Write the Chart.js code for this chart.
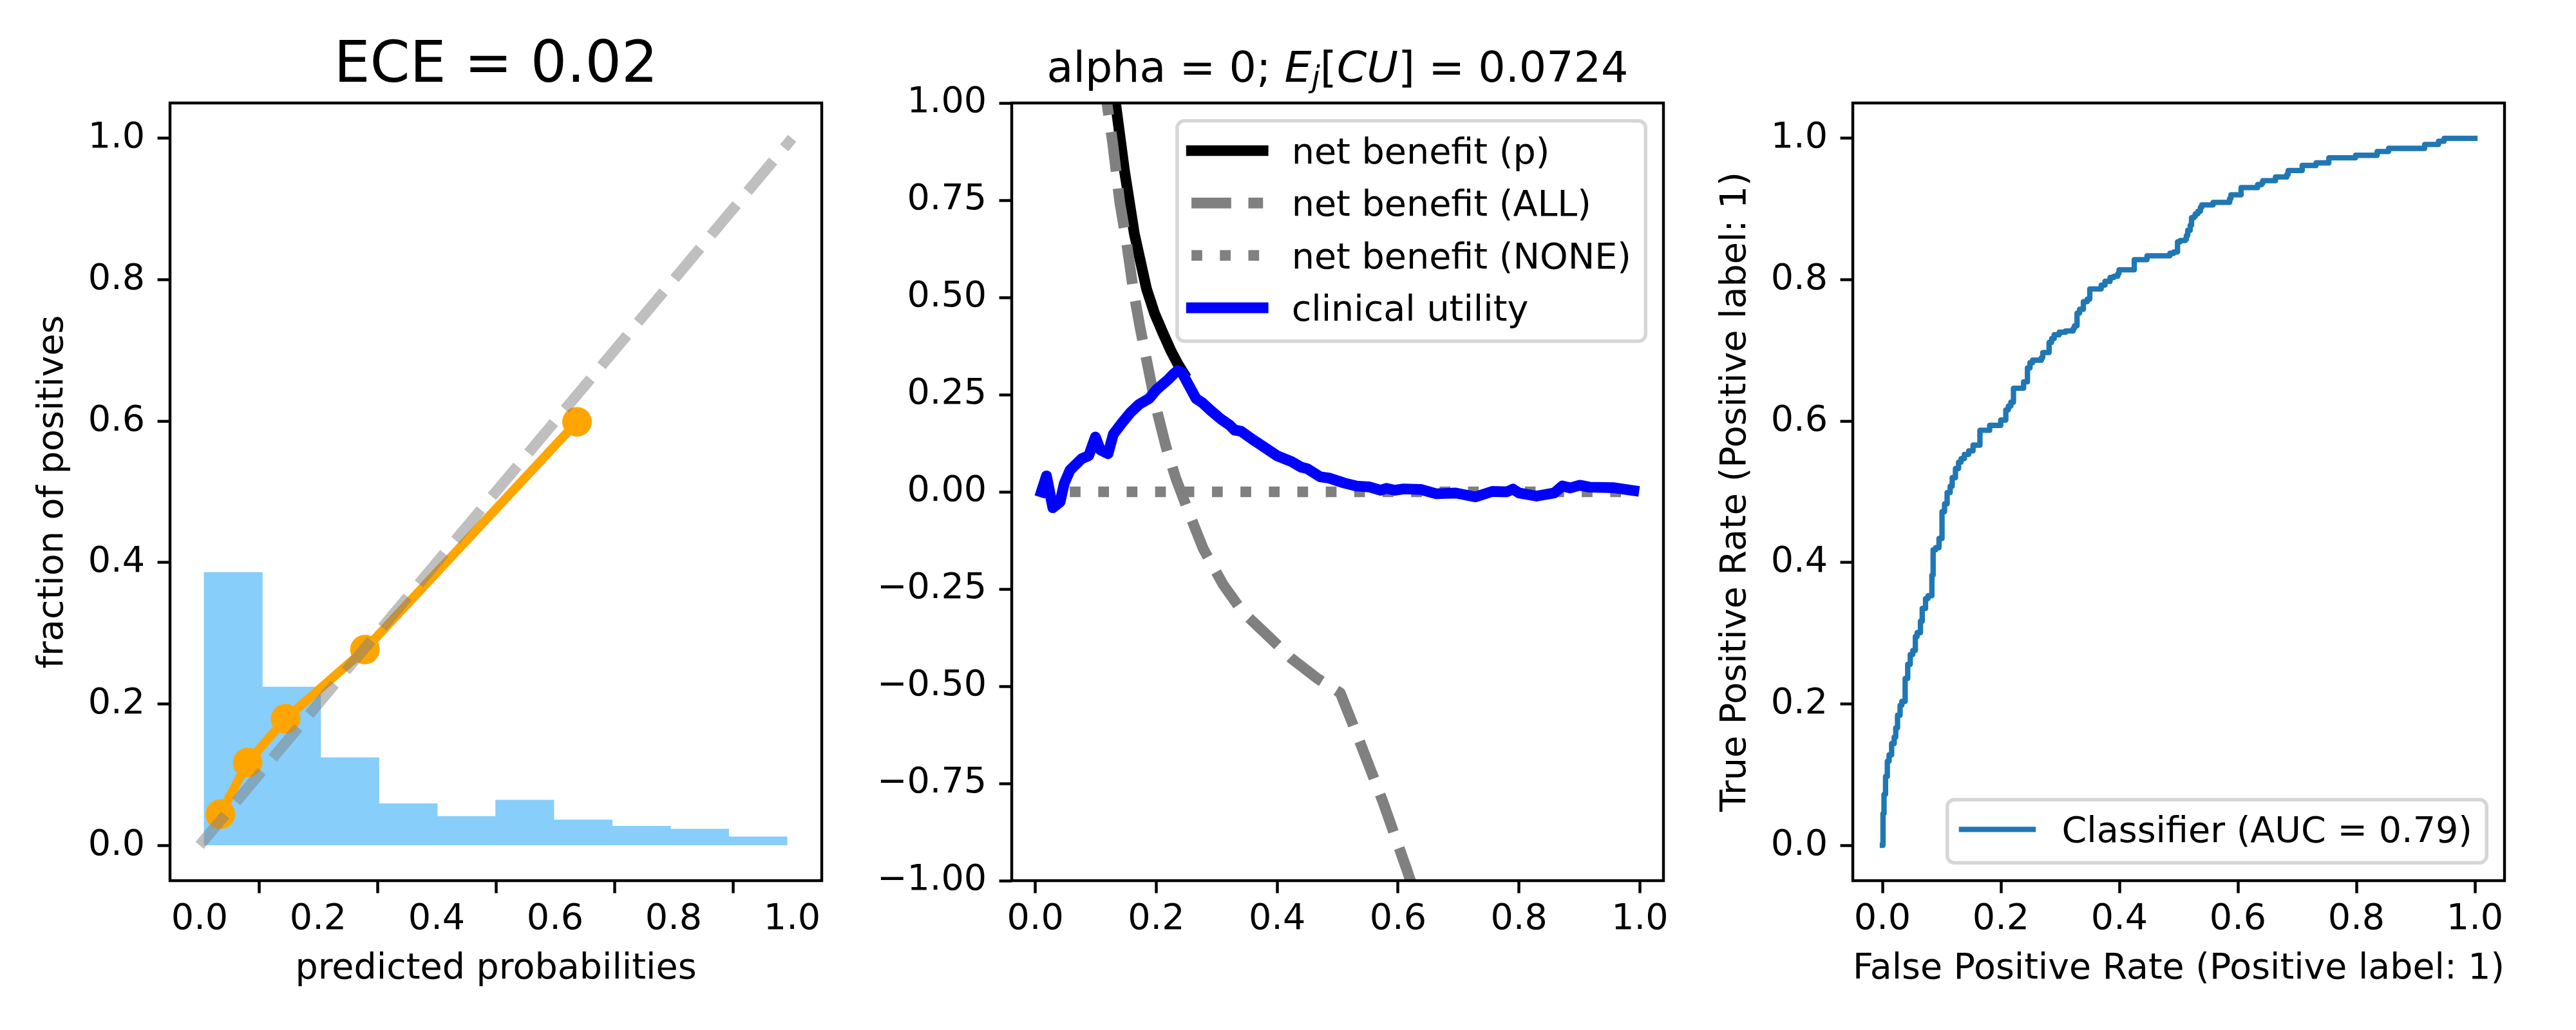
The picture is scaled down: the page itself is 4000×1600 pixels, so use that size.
<!DOCTYPE html>
<html>
<head>
<meta charset="utf-8">
<title>Calibration, decision curve and ROC</title>
<script src="https://cdn.jsdelivr.net/npm/chart.js@4.4.1/dist/chart.umd.min.js"></script>
<style>
  html, body { margin: 0; padding: 0; background: #fff; }
  #wrap { position: relative; width: 4000px; height: 1600px; }
  #wrap canvas { position: absolute; left: 0; top: 0; }
</style>
</head>
<body>
<div id="wrap">
  <canvas id="calib" width="4000" height="1600"></canvas>
  <canvas id="dca" width="4000" height="1600"></canvas>
  <canvas id="roc" width="4000" height="1600"></canvas>
</div>
<script>
// ---- data ----
const unitTicks = [0, 0.2, 0.4, 0.6, 0.8, 1.0];
const benefitTicks = [-1, -0.75, -0.5, -0.25, 0, 0.25, 0.5, 0.75, 1];

// left panel: histogram of predicted probabilities + calibration curve
const binEdges = [0.0075, 0.1059, 0.2043, 0.3027, 0.4011, 0.4995, 0.5979, 0.6963, 0.7947, 0.8931, 0.9915];
const binFractions = [0.386, 0.224, 0.124, 0.059, 0.041, 0.064, 0.036, 0.027, 0.023, 0.012];
const calibProb = [0.035, 0.081, 0.145, 0.279, 0.637];
const calibFrac = [0.044, 0.117, 0.179, 0.277, 0.599];
const perfectLine = [0, 1];

// middle panel: decision curve
const modelNbX = [0.12, 0.133, 0.1475, 0.1638, 0.184, 0.197, 0.2107, 0.2239, 0.2355, 0.2453];
const modelNbY = [1.15, 0.997, 0.826, 0.664, 0.522, 0.46, 0.41, 0.364, 0.3295, 0.305];
const treatAllX = [0.112, 0.1214, 0.128, 0.1397, 0.1507, 0.1618, 0.1736, 0.1866, 0.1997, 0.216, 0.2323, 0.252,
  0.278, 0.3105, 0.343, 0.3758, 0.4237, 0.4665, 0.5044, 0.537, 0.5747, 0.613, 0.625];
const treatAllY = [1.07, 0.968, 0.897, 0.745, 0.644, 0.522, 0.42, 0.3195, 0.218, 0.1166, 0.0354, -0.0457,
  -0.147, -0.238, -0.309, -0.357, -0.4286, -0.48, -0.517, -0.644, -0.796, -0.965, -1.02];
const treatNoneX = [0.01, 0.99];
const treatNoneY = [0, 0];
const utilityX = [0.01, 0.0185, 0.029, 0.041, 0.048, 0.0575, 0.0766, 0.0884, 0.0994, 0.1075, 0.1203, 0.129,
  0.1432, 0.1575, 0.1717, 0.1884, 0.2003, 0.2193, 0.228, 0.2355, 0.2425, 0.2501, 0.2658, 0.2763, 0.2906,
  0.3072, 0.3215, 0.3296, 0.3405, 0.3595, 0.3713, 0.3856, 0.3999, 0.4237, 0.4403, 0.4498, 0.4713, 0.4855,
  0.5116, 0.5307, 0.552, 0.571, 0.5806, 0.5949, 0.6092, 0.6377, 0.663, 0.6955, 0.728, 0.756, 0.78, 0.79,
  0.80, 0.829, 0.8585, 0.8716, 0.8846, 0.9006, 0.917, 0.956, 0.99];
const utilityY = [0, 0.041, -0.041, -0.026, 0.022, 0.056, 0.085, 0.093, 0.141, 0.108, 0.098, 0.148,
  0.177, 0.204, 0.225, 0.240, 0.2626, 0.288, 0.302, 0.312, 0.307, 0.285, 0.240, 0.229, 0.2086,
  0.187, 0.1715, 0.159, 0.1556, 0.1346, 0.1225, 0.1076, 0.0927, 0.0778, 0.063, 0.0596, 0.0386, 0.0356,
  0.0223, 0.015, 0.0127, 0.004, 0.009, 0.004, 0.0075, 0.006, -0.005, -0.003, -0.013, 0.001, 0.0, 0.007,
  -0.003, -0.011, -0.003, 0.015, 0.01, 0.017, 0.012, 0.0106, 0.003];

// right panel: ROC curve corners
const rocFpr = [0, 0.001, 0.0027, 0.0053, 0.0083, 0.0113, 0.0156, 0.0199, 0.0225, 0.0255, 0.0298, 0.0328,
  0.0384, 0.0427, 0.047, 0.0513, 0.0556, 0.0586, 0.0642, 0.0672, 0.0728, 0.077, 0.0835, 0.0856, 0.0899,
  0.0955, 0.1006, 0.1049, 0.1092, 0.1144, 0.1178, 0.1233, 0.1285, 0.1328, 0.1384, 0.1457, 0.153, 0.1646,
  0.181, 0.1997, 0.2083, 0.2126, 0.2168, 0.2212, 0.2383, 0.2448, 0.2491, 0.2534, 0.2684, 0.2706, 0.2813,
  0.2856, 0.2899, 0.2985, 0.3092, 0.322, 0.3242, 0.3285, 0.3328, 0.3392, 0.3457, 0.35, 0.3693, 0.3757,
  0.3843, 0.3908, 0.3972, 0.3993, 0.4251, 0.4466, 0.4852, 0.4917, 0.4981, 0.5024, 0.511, 0.5131, 0.5153,
  0.5195, 0.5217, 0.526, 0.5281, 0.5325, 0.5367, 0.5389, 0.5582, 0.5861, 0.5883, 0.6054, 0.6333, 0.6398,
  0.6419, 0.6634, 0.6827, 0.6848, 0.7085, 0.732, 0.7535, 0.7986, 0.835, 0.8544, 0.9152, 0.9387, 0.948, 1.0];
const rocTpr = [0, 0.045, 0.0721, 0.0974, 0.119, 0.128, 0.144, 0.153, 0.166, 0.184, 0.198, 0.2036,
  0.236, 0.256, 0.27, 0.2756, 0.2954, 0.3008, 0.317, 0.335, 0.349, 0.353, 0.382, 0.418, 0.421,
  0.434, 0.472, 0.483, 0.499, 0.508, 0.52, 0.533, 0.542, 0.547, 0.553, 0.558, 0.566, 0.587,
  0.594, 0.6015, 0.616, 0.6213, 0.6268, 0.6465, 0.6556, 0.6753, 0.6826, 0.6862, 0.6898, 0.697, 0.7114,
  0.7168, 0.7222, 0.7258, 0.7276, 0.7312, 0.7348, 0.7528, 0.7582, 0.769, 0.7726, 0.787, 0.7924, 0.7978,
  0.8032, 0.805, 0.8086, 0.814, 0.8284, 0.8338, 0.8374, 0.8393, 0.8536, 0.8554, 0.8572, 0.8627, 0.8699,
  0.877, 0.8878, 0.8896, 0.8933, 0.8968, 0.9023, 0.9058, 0.9095, 0.9148, 0.9202, 0.9303, 0.9346, 0.9364,
  0.9401, 0.9454, 0.949, 0.9545, 0.9617, 0.9653, 0.9725, 0.976, 0.9814, 0.9858, 0.9914, 0.996, 1.0, 1.0];

// ---- look ----
const PT = 400 / 72;          // figure was 400 dpi
const FS = 10 * PT;
const FONT = 'DejaVu Sans';
const LW = 3 * PT;
const PANEL_LEFT = [264, 1571, 2877];
const PANEL_W = 1012;
const AREA_TOP = 160, AREA_BOTTOM = 1368;
const Y_BOX = 250, X_BOX = 200;

Chart.defaults.font.family = FONT;
Chart.defaults.color = '#000';

const pts = (xs, ys) => xs.map((x, i) => ({ x: x, y: ys[i] }));
const fmt1 = v => v.toFixed(1);
const fmt2 = v => v.toFixed(2).replace('-', '\u2212');

function axis(kind, min, max, tickVals, fmt, label) {
  const o = {
    type: 'linear', min: min, max: max, offset: false,
    grid: { drawOnChartArea: false, drawTicks: true, tickLength: 3.5 * PT, tickWidth: 0.8 * PT, tickColor: '#000' },
    border: { display: false },
    ticks: {
      autoSkip: false, maxRotation: 0, minRotation: 0, color: '#000',
      padding: kind === 'x' ? 8 : 3.5 * PT,
      font: { family: FONT, size: FS, lineHeight: 1.2 },
      callback: fmt
    },
    afterBuildTicks: s => { s.ticks = tickVals.map(v => ({ value: v })); },
    afterFit: s => { if (kind === 'x') s.height = X_BOX; else s.width = Y_BOX; },
    title: { display: false }
  };
  if (label) {
    o.title = {
      display: true, text: label, color: '#000',
      font: { family: FONT, size: FS, lineHeight: 1.2 },
      padding: kind === 'x' ? { top: 0, bottom: 28.8 } : { top: 35.4, bottom: 0 }
    };
  }
  return o;
}

function layoutFor(i) {
  return {
    padding: {
      left: PANEL_LEFT[i] - Y_BOX,
      right: 4000 - (PANEL_LEFT[i] + PANEL_W),
      top: AREA_TOP,
      bottom: 1600 - AREA_BOTTOM - X_BOX
    }
  };
}

function roundBox(ctx, x, y, w, h, r) {
  ctx.beginPath();
  ctx.moveTo(x + r, y);
  ctx.lineTo(x + w - r, y);
  ctx.arcTo(x + w, y, x + w, y + r, r);
  ctx.lineTo(x + w, y + h - r);
  ctx.arcTo(x + w, y + h, x + w - r, y + h, r);
  ctx.lineTo(x + r, y + h);
  ctx.arcTo(x, y + h, x, y + h - r, r);
  ctx.lineTo(x, y + r);
  ctx.arcTo(x, y, x + r, y, r);
  ctx.closePath();
}

function drawLegend(chart, loc) {
  const items = chart.data.datasets.filter(d => d.legendRank !== undefined)
    .sort((a, b) => a.legendRank - b.legendRank);
  const ctx = chart.ctx, a = chart.chartArea;
  const pad = 0.4 * FS, hl = 2 * FS, htp = 0.8 * FS, bap = 0.5 * FS, ls = 0.5 * FS, rowH = 53.6;
  ctx.save();
  ctx.font = FS + 'px "' + FONT + '"';
  const tw = Math.max.apply(null, items.map(d => ctx.measureText(d.label).width));
  const w = pad + hl + htp + tw + pad;
  const h = 2 * pad + items.length * rowH + (items.length - 1) * ls;
  const x = a.right - bap - w;
  const y = loc === 'upper right' ? a.top + bap : a.bottom - bap - h;
  roundBox(ctx, x, y, w, h, 0.2 * FS);
  ctx.fillStyle = 'rgba(255,255,255,0.8)';
  ctx.fill();
  ctx.lineWidth = PT;
  ctx.strokeStyle = 'rgba(204,204,204,0.8)';
  ctx.stroke();
  items.forEach((d, i) => {
    const base = y + pad + i * (rowH + ls) + 44;
    const ly = base - 20;
    ctx.beginPath();
    ctx.setLineDash(d.borderDash || []);
    ctx.lineCap = d.borderCapStyle || 'butt';
    ctx.lineWidth = d.borderWidth;
    ctx.strokeStyle = d.borderColor;
    ctx.moveTo(x + pad, ly);
    ctx.lineTo(x + pad + hl, ly);
    ctx.stroke();
    ctx.setLineDash([]);
    ctx.fillStyle = '#000';
    ctx.textAlign = 'left';
    ctx.textBaseline = 'alphabetic';
    ctx.fillText(d.label, x + pad + hl + htp, base);
  });
  ctx.restore();
}

function drawTitle(chart, parts) {
  if (!parts) return;
  const ctx = chart.ctx, a = chart.chartArea;
  const fontOf = p => (p.italic ? 'italic ' : '') + p.size + 'px "' + FONT + '"';
  ctx.save();
  let total = 0;
  const sized = parts.map(p => {
    ctx.font = fontOf(p);
    const w = ctx.measureText(p.text).width;
    total += w;
    return { p: p, w: w };
  });
  let x = (a.left + a.right) / 2 - total / 2;
  const base = a.top - 6 * PT;
  ctx.fillStyle = '#000';
  ctx.textAlign = 'left';
  ctx.textBaseline = 'alphabetic';
  sized.forEach(s => {
    ctx.font = fontOf(s.p);
    ctx.fillText(s.p.text, x, base + (s.p.dy || 0));
    x += s.w;
  });
  ctx.restore();
}

// spines, legend and title the way matplotlib places them
function mplDecor(titleParts, legendLoc) {
  return {
    id: 'mplDecor',
    afterDatasetsDraw(chart) {
      const ctx = chart.ctx, a = chart.chartArea;
      ctx.save();
      ctx.strokeStyle = '#000';
      ctx.lineWidth = 0.8 * PT;
      ctx.strokeRect(a.left, a.top, a.right - a.left, a.bottom - a.top);
      ctx.restore();
      if (legendLoc) drawLegend(chart, legendLoc);
    },
    afterDraw(chart) { drawTitle(chart, titleParts); }
  };
}

const common = {
  responsive: false, animation: false, devicePixelRatio: 1, events: [],
  plugins: { legend: { display: false }, tooltip: { enabled: false } }
};

// ---- left: calibration ----
const binCenters = binFractions.map((_, i) => (binEdges[i] + binEdges[i + 1]) / 2);
new Chart(document.getElementById('calib'), {
  type: 'line',
  data: {
    datasets: [
      {
        type: 'line', label: 'perfectly calibrated', data: pts(perfectLine, perfectLine),
        borderColor: 'rgba(128,128,128,0.5)', borderWidth: LW, borderDash: [3.7 * LW, 1.6 * LW],
        borderCapStyle: 'butt', pointRadius: 0, order: 0
      },
      {
        type: 'line', label: 'calibration', data: pts(calibProb, calibFrac),
        borderColor: '#ffa500', borderWidth: 14, borderJoinStyle: 'round', borderCapStyle: 'square',
        pointRadius: 23, pointBackgroundColor: '#ffa500', pointBorderWidth: 0, order: 1
      },
      {
        type: 'bar', label: 'histogram', data: pts(binCenters, binFractions),
        backgroundColor: 'lightskyblue', borderWidth: 0, barPercentage: 1, categoryPercentage: 1,
        grouped: false, order: 2
      }
    ]
  },
  options: Object.assign({}, common, {
    layout: layoutFor(0),
    scales: {
      x: axis('x', -0.05, 1.05, unitTicks, fmt1, 'predicted probabilities'),
      y: axis('y', -0.05, 1.05, unitTicks, fmt1, 'fraction of positives')
    }
  }),
  plugins: [mplDecor([{ text: 'ECE = 0.02', size: 16 * PT }], null)]
});

// ---- middle: decision curve ----
new Chart(document.getElementById('dca'), {
  type: 'line',
  data: {
    datasets: [
      {
        label: 'clinical utility', data: pts(utilityX, utilityY), borderColor: '#0000ff',
        borderWidth: LW, borderJoinStyle: 'round', borderCapStyle: 'square',
        pointRadius: 0, clip: 0, order: 0, legendRank: 3
      },
      {
        label: 'net benefit (NONE)', data: pts(treatNoneX, treatNoneY), borderColor: '#808080',
        borderWidth: LW, borderDash: [LW, 1.65 * LW], borderCapStyle: 'butt',
        pointRadius: 0, clip: 0, order: 1, legendRank: 2
      },
      {
        label: 'net benefit (ALL)', data: pts(treatAllX, treatAllY), borderColor: '#808080',
        borderWidth: LW, borderDash: [3.7 * LW, 1.6 * LW], borderCapStyle: 'butt', borderJoinStyle: 'round',
        pointRadius: 0, clip: 0, order: 2, legendRank: 1
      },
      {
        label: 'net benefit (p)', data: pts(modelNbX, modelNbY), borderColor: '#000000',
        borderWidth: LW, borderJoinStyle: 'round', borderCapStyle: 'square',
        pointRadius: 0, clip: 0, order: 3, legendRank: 0
      }
    ]
  },
  options: Object.assign({}, common, {
    layout: layoutFor(1),
    scales: {
      x: axis('x', -0.039, 1.039, unitTicks, fmt1, null),
      y: axis('y', -1, 1, benefitTicks, fmt2, null)
    }
  }),
  plugins: [mplDecor([
    { text: 'alpha = 0; ', size: 12 * PT },
    { text: 'E', size: 12 * PT, italic: true },
    { text: 'j', size: 0.7 * 12 * PT, italic: true, dy: 8 },
    { text: '[', size: 12 * PT },
    { text: 'CU', size: 12 * PT, italic: true },
    { text: ']', size: 12 * PT },
    { text: ' = 0.0724', size: 12 * PT }
  ], 'upper right')]
});

// ---- right: ROC ----
new Chart(document.getElementById('roc'), {
  type: 'line',
  data: {
    datasets: [{
      label: 'Classifier (AUC = 0.79)', data: pts(rocFpr, rocTpr), borderColor: '#1f77b4',
      borderWidth: 1.5 * PT, stepped: 'before', borderJoinStyle: 'round', borderCapStyle: 'square',
      pointRadius: 0, legendRank: 0
    }]
  },
  options: Object.assign({}, common, {
    layout: layoutFor(2),
    scales: {
      x: axis('x', -0.05, 1.05, unitTicks, fmt1, 'False Positive Rate (Positive label: 1)'),
      y: axis('y', -0.05, 1.05, unitTicks, fmt1, 'True Positive Rate (Positive label: 1)')
    }
  }),
  plugins: [mplDecor(null, 'lower right')]
});
</script>
</body>
</html>
